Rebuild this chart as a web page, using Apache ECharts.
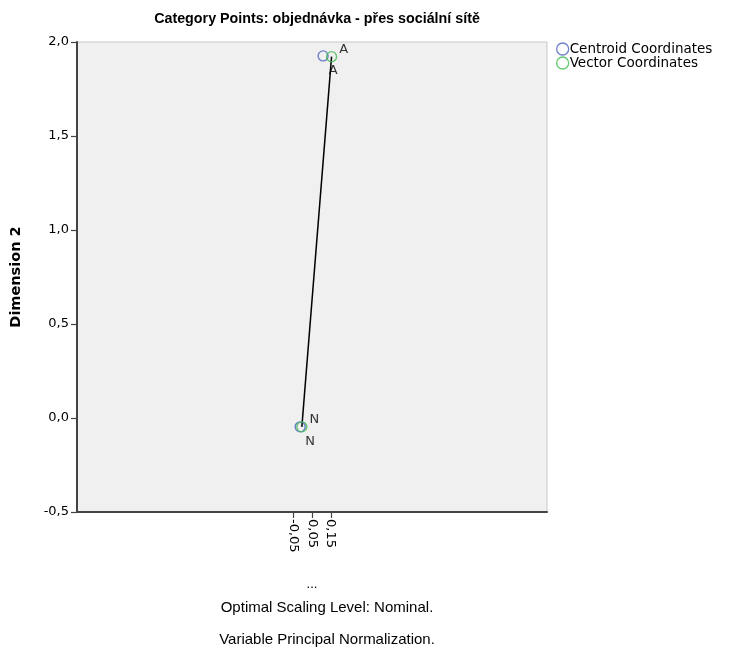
<!DOCTYPE html>
<html>
<head>
<meta charset="utf-8">
<script src="https://cdn.jsdelivr.net/npm/echarts@6/dist/echarts.min.js"></script>
<style>
  html, body { margin: 0; padding: 0; background: #fff; }
  #chart { width: 735px; height: 648px; }
</style>
</head>
<body>
<div id="chart"></div>
<script>
// Category quantifications for the variable
const categories = ['A', 'N'];
const centroidX = [0.109, -0.013];
const centroidY = [1.926, -0.047];
const vectorX = [0.154, -0.004];
const vectorY = [1.922, -0.047];
const xTicks = [-0.05, 0.05, 0.15];
const yTicks = [-0.5, 0.0, 0.5, 1.0, 1.5, 2.0];

const ARIAL = '"Liberation Sans", Arial, sans-serif';
const WIDE = '"DejaVu Sans", Verdana, sans-serif';

const centroidData = categories.map((c, i) => ({ value: [centroidX[i], centroidY[i]], name: c }));
const vectorData = categories.map((c, i) => ({ value: [vectorX[i], vectorY[i]], name: c }));

const BLUE = '#4a62c0';
const GREEN = '#3dbb4f';

const chart = echarts.init(document.getElementById('chart'), null, { renderer: 'canvas' });
chart.setOption({
  animation: false,
  title: {
    text: 'Category Points: objednávka - přes sociální sítě',
    left: 312, top: 7, textAlign: 'center',
    textStyle: { fontFamily: ARIAL, fontSize: 14.3, fontWeight: 'bold', color: '#000' }
  },
  legend: {
    orient: 'vertical', left: 551, top: 37, itemGap: 0,
    itemWidth: 12, itemHeight: 12,
    icon: 'circle',
    textStyle: { fontFamily: WIDE, fontSize: 13.5, lineHeight: 14, color: '#000', padding: [0, 0, 0, -4] },
    data: [
      { name: 'Centroid Coordinates', itemStyle: { color: 'transparent', borderColor: BLUE, borderWidth: 1.3 } },
      { name: 'Vector Coordinates', itemStyle: { color: 'transparent', borderColor: GREEN, borderWidth: 1.3 } }
    ]
  },
  grid: {
    left: 77, top: 42, width: 470, height: 470,
    show: true, backgroundColor: '#f0f0f0', borderColor: '#c8c8c8', borderWidth: 1
  },
  xAxis: {
    type: 'value', min: -1.2, max: 1.3,
    name: '...', nameLocation: 'middle', nameGap: 66,
    nameTextStyle: { fontFamily: ARIAL, fontSize: 13, color: '#000' },
    splitLine: { show: false },
    axisLine: { show: true, onZero: false, lineStyle: { color: '#444', width: 2 } },
    axisTick: { show: true, length: 6, customValues: xTicks, lineStyle: { color: '#444', width: 1.2 } },
    axisLabel: {
      customValues: xTicks, rotate: -90, margin: 7,
      fontFamily: WIDE, fontSize: 13, color: '#000',
      formatter: v => v.toFixed(2).replace('.', ',')
    }
  },
  yAxis: {
    type: 'value', min: -0.5, max: 2.0, interval: 0.5,
    name: 'Dimension 2', nameLocation: 'middle', nameGap: 53,
    nameTextStyle: { fontFamily: WIDE, fontSize: 14.5, fontWeight: 'bold', color: '#000' },
    splitLine: { show: false },
    axisLine: { show: true, onZero: false, lineStyle: { color: '#444', width: 2 } },
    axisTick: { show: true, length: 6, customValues: yTicks, lineStyle: { color: '#444', width: 1.2 } },
    axisLabel: {
      customValues: yTicks, margin: 8,
      fontFamily: WIDE, fontSize: 13, color: '#000',
      formatter: v => v.toFixed(1).replace('.', ',')
    }
  },
  graphic: [
    { type: 'text', x: 327, y: 600, style: { text: 'Optimal Scaling Level: Nominal.', align: 'center', fontFamily: ARIAL, fontSize: 15, fill: '#000' } },
    { type: 'text', x: 327, y: 632, style: { text: 'Variable Principal Normalization.', align: 'center', fontFamily: ARIAL, fontSize: 15, fill: '#000' } }
  ],
  series: [
    {
      name: 'Vector line', type: 'line', data: vectorData.map(d => d.value),
      symbol: 'none', lineStyle: { color: '#000', width: 1.5 }, z: 3, silent: true
    },
    {
      name: 'Centroid Coordinates', type: 'scatter', data: centroidData,
      symbol: 'circle', symbolSize: 10,
      itemStyle: { color: 'transparent', borderColor: BLUE, borderWidth: 1.4 },
      label: {
        show: true, position: 'bottom', distance: 3, offset: [10, 0],
        formatter: p => p.name, fontFamily: WIDE, fontSize: 13, color: '#000'
      },
      z: 4
    },
    {
      name: 'Vector Coordinates', type: 'scatter', data: vectorData,
      symbol: 'circle', symbolSize: 10,
      itemStyle: { color: 'transparent', borderColor: GREEN, borderWidth: 1.4 },
      label: {
        show: true, position: 'right', distance: 2, offset: [0, -7],
        formatter: p => p.name, fontFamily: WIDE, fontSize: 13, color: '#000'
      },
      z: 5
    }
  ]
});
</script>
</body>
</html>
